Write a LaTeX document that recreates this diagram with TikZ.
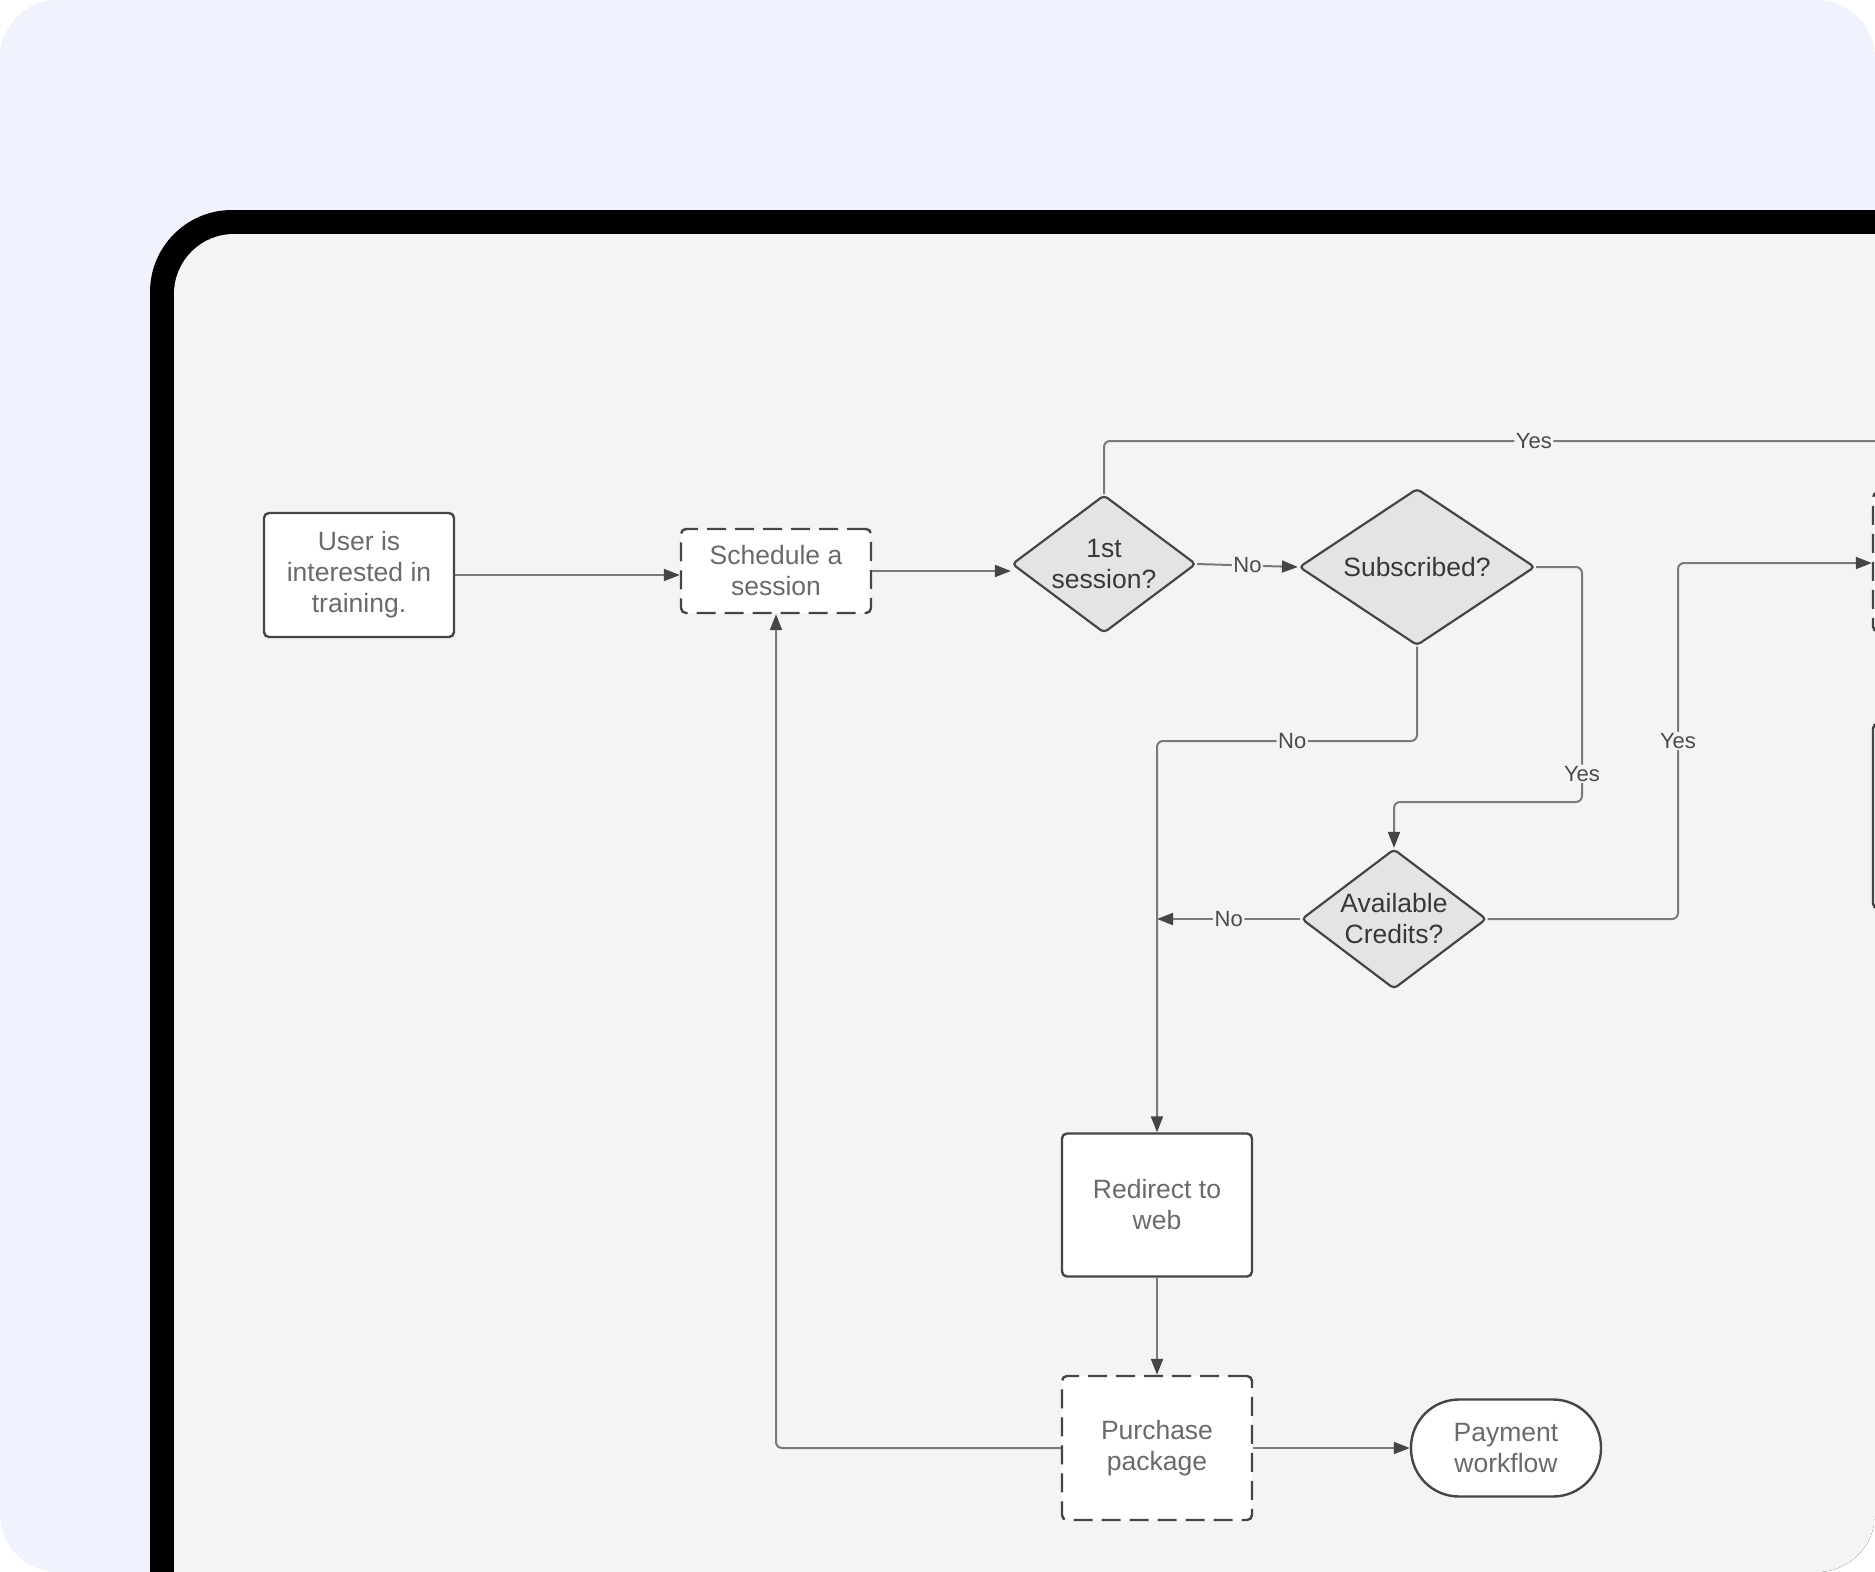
\documentclass[tikz,border=0pt]{standalone}
\usepackage{fontspec}
\setmainfont{Liberation Sans}
\usepackage{tikz}
\usetikzlibrary{shapes.geometric, arrows.meta, positioning}

\definecolor{pagebg}{HTML}{F0F3FD}
\definecolor{panel}{HTML}{F4F4F4}
\definecolor{boxline}{HTML}{454545}
\definecolor{linecol}{HTML}{7A7A7A}
\definecolor{tipcol}{HTML}{454545}
\definecolor{decfill}{HTML}{E4E4E4}
\definecolor{boxtext}{HTML}{6A6A6A}
\definecolor{dectext}{HTML}{383838}
\definecolor{lblcol}{HTML}{4A4A4A}

\tikzset{
  box/.style={draw=boxline, fill=white, line width=2.4pt, rounded corners=5pt,
    minimum width=190pt, minimum height=124pt, inner sep=0pt, align=center,
    text=boxtext, font=\fontsize{26.5}{31}\selectfont},
  dashbox/.style={box, dash pattern=on 19pt off 9pt},
  decision/.style={diamond, draw=boxline, fill=decfill, line width=2.2pt,
    rounded corners=4pt, aspect=1.32, inner sep=-6pt, align=center,
    text=dectext, font=\fontsize{26.5}{31}\selectfont},
  link/.style={draw=linecol, line width=2pt, rounded corners=6pt},
  arr/.style={link, -{Triangle[length=16pt, width=12pt, color=tipcol]}},
  lbl/.style={fill=panel, inner sep=1.5pt, text=lblcol,
    font=\fontsize{22}{22}\selectfont}
}

\begin{document}
\begin{tikzpicture}[x=1pt, y=-1pt]
\useasboundingbox (0,0) rectangle (1875,1572);
\fill[white] (0,0) rectangle (1875,1572);
\begin{scope}
\clip[rounded corners=58pt] (0,0) rectangle (1875,1572);
\fill[pagebg] (0,0) rectangle (1875,1572);
\fill[black, rounded corners=82pt] (150,210) rectangle (2100,1800);
\fill[panel, rounded corners=60pt] (174,234) rectangle (2100,1800);

\node[box] (user) at (359,575) {User is\\interested in\\training.};
\node[dashbox, minimum height=84pt] (sched) at (776,571) {Schedule a\\session};
\node[decision, minimum width=184pt, minimum height=138pt] (first) at (1104,564) {1st\\session?};
\node[decision, minimum width=236pt, minimum height=157pt] (sub) at (1417,567) {Subscribed?};
\node[decision, minimum width=185pt, minimum height=140pt] (avail) at (1394,919) {Available\\Credits?};
\node[box, minimum height=143pt] (redir) at (1157,1205) {Redirect to\\web};
\node[dashbox, minimum height=144pt] (purch) at (1157,1448) {Purchase\\package};
\node[box, minimum height=97pt, rounded corners=48pt] (pay) at (1506,1448) {Payment\\workflow};
\node[dashbox, minimum height=139pt] (nextstep) at (1968,562) {};
\node[box, minimum height=185pt] (nextbox) at (1968,816) {};
\coordinate (topright) at (1900,441);

\draw[arr] (user.east) -- (user.east -| sched.west);
\draw[arr] (sched.east) -- (sched.east -| first.west);
\draw[arr] (first.east) -- node[lbl] {No} (sub.west);
\draw[link] (first.north) |- node[lbl, pos=0.77] {Yes} (topright);
\draw[arr] (sub.east) -- (1582,567) -- node[lbl, pos=0.88] {Yes} (1582,802) -| (avail.north);
\draw[arr] (sub.south) |- node[lbl, pos=0.74] {No} (1157,741) -- (redir.north);
\draw[arr] (avail.west) -- node[lbl] {No} (avail.west -| redir.north);
\draw[arr] (avail.east) -- (1678,919) -- node[lbl] {Yes} (1678,563) -- (nextstep.west |- 0,563);
\draw[arr] (redir) -- (purch);
\draw[arr] (purch) -- (pay);
\draw[arr] (purch.west) -| (sched.south);
\end{scope}
\end{tikzpicture}
\end{document}
